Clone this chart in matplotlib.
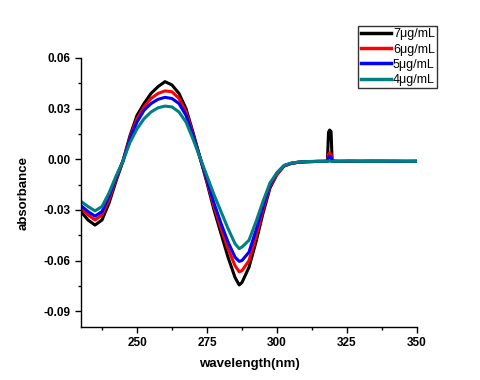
import matplotlib
matplotlib.use("Agg")
import matplotlib.pyplot as plt
from matplotlib.ticker import MultipleLocator

plt.rcParams['font.family'] = ['Liberation Sans', 'DejaVu Sans']

wavelength = [230, 232.5, 235, 237.5, 240, 242.5, 245, 247.5, 250, 252.5, 255, 257.5,
              260, 262.5, 265, 267.5, 270, 272.5, 275, 277.5, 280, 282.5, 285, 286.5,
              287.5, 290, 292.5, 295, 297.5, 300, 302.5, 305, 307.5, 310, 314, 318,
              318.4, 318.8, 319.3, 319.7, 322, 326, 330, 334, 338, 342, 346, 350]

c7 = [-0.031, -0.036, -0.039, -0.036, -0.026, -0.013, -0.001, 0.014, 0.026, 0.033, 0.039, 0.043,
      0.046, 0.044, 0.039, 0.030, 0.016, 0.001, -0.014, -0.030, -0.044, -0.058, -0.070, -0.0745,
      -0.073, -0.064, -0.049, -0.032, -0.017, -0.009, -0.004, -0.0025, -0.0018, -0.0015, -0.0013, -0.0012,
      0.016, 0.0173, 0.0165, -0.0011, -0.0012, -0.0011, -0.0013, -0.0012, -0.0011, -0.0012, -0.0013, -0.0012]

c6 = [-0.029, -0.033, -0.036, -0.033, -0.024, -0.012, -0.001, 0.013, 0.024, 0.031, 0.036, 0.039,
      0.0405, 0.040, 0.036, 0.028, 0.015, 0.001, -0.013, -0.028, -0.041, -0.053, -0.063, -0.0667,
      -0.066, -0.060, -0.046, -0.030, -0.016, -0.009, -0.004, -0.0025, -0.0018, -0.0015, -0.0013, -0.0012,
      0.003, 0.0038, 0.003, -0.0011, -0.0012, -0.0013, -0.0011, -0.0012, -0.0013, -0.0011, -0.0012, -0.0012]

c5 = [-0.0275, -0.031, -0.0337, -0.031, -0.022, -0.011, -0.001, 0.012, 0.022, 0.029, 0.033, 0.0355,
      0.0367, 0.036, 0.033, 0.026, 0.014, 0.001, -0.012, -0.026, -0.038, -0.049, -0.058, -0.0605,
      -0.060, -0.055, -0.042, -0.028, -0.015, -0.008, -0.0038, -0.0024, -0.0018, -0.0015, -0.0013, -0.0012,
      0.0012, 0.0019, 0.0012, -0.0011, -0.0013, -0.0012, -0.0012, -0.0011, -0.0012, -0.0013, -0.0012, -0.0012]

c4 = [-0.025, -0.028, -0.0306, -0.028, -0.020, -0.010, -0.001, 0.010, 0.018, 0.024, 0.028, 0.0305,
      0.0315, 0.031, 0.028, 0.022, 0.012, 0.001, -0.010, -0.021, -0.031, -0.041, -0.050, -0.053,
      -0.052, -0.048, -0.037, -0.025, -0.014, -0.008, -0.0036, -0.0023, -0.0017, -0.0014, -0.0012, -0.0012,
      -0.0011, -0.0011, -0.0012, -0.0012, -0.0012, -0.0011, -0.0012, -0.0012, -0.0012, -0.0011, -0.0012, -0.0012]

series = [("7\u03bcg/mL", c7, "#000000"),
          ("6\u03bcg/mL", c6, "#ff0000"),
          ("5\u03bcg/mL", c5, "#0000ff"),
          ("4\u03bcg/mL", c4, "#008080")]

fig = plt.figure(figsize=(4.81, 3.80), dpi=100)
ax = fig.add_axes([81/481, 1-327/380, (417-81)/481, (327-58)/380])

for label, vals, col in series:
    ax.plot(wavelength, vals, color=col, lw=2.2, label=label)

ax.set_xlim(230, 350)
ax.set_ylim(-0.0994, 0.06)
ax.xaxis.set_major_locator(MultipleLocator(25))
ax.xaxis.set_minor_locator(MultipleLocator(12.5))
ax.set_yticks([-0.09, -0.06, -0.03, 0.0, 0.03, 0.06])
ax.yaxis.set_minor_locator(MultipleLocator(0.015))
ax.set_yticklabels(["-0.09", "-0.06", "-0.03", "0.00", "0.03", "0.06"])

for s in ['top', 'right']:
    ax.spines[s].set_visible(False)
for s in ['left', 'bottom']:
    ax.spines[s].set_linewidth(1.0)

ax.tick_params(which='major', direction='out', length=4.5, width=1.0, labelsize=8.5, pad=3)
ax.tick_params(which='minor', direction='out', length=2.5, width=1.0)
for lab in ax.get_xticklabels() + ax.get_yticklabels():
    lab.set_fontweight('bold')

ax.set_xlabel("wavelength(nm)", fontsize=9.5, fontweight='bold', labelpad=6)
ax.set_ylabel("absorbance", fontsize=9.5, fontweight='bold', labelpad=10)

leg = ax.legend(loc='upper left', bbox_to_anchor=(358/481, 1-26/380),
                bbox_transform=fig.transFigure, fontsize=9, frameon=True,
                fancybox=False, borderpad=0.2, handlelength=2.4, handletextpad=0.2,
                labelspacing=0.25, borderaxespad=0)
leg.get_frame().set_edgecolor('black')
leg.get_frame().set_linewidth(1.0)
for line in leg.get_lines():
    line.set_linewidth(2.5)

fig.savefig("out.png", dpi=100)
